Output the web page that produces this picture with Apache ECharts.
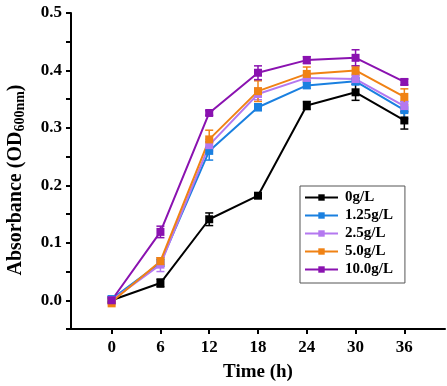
<!DOCTYPE html>
<html>
<head>
<meta charset="utf-8">
<script src="https://cdn.jsdelivr.net/npm/echarts@6/dist/echarts.min.js"></script>
<style>
  html, body { margin: 0; padding: 0; background: #fff; }
  #chart { width: 447px; height: 386px; }
</style>
</head>
<body>
<div id="chart"></div>
<script>
// time points (h)
const times = [0, 6, 12, 18, 24, 30, 36]
const xTicks = [0, 6, 12, 18, 24, 30, 36]
const yTicks = [0, 0.1, 0.2, 0.3, 0.4, 0.5]

const names = ['0g/L', '1.25g/L', '2.5g/L', '5.0g/L', '10.0g/L']
const colors = ['#000000', '#1a80e0', '#b478f0', '#f08214', '#8a12b0']

// OD600 means
const od0 = [0.000, 0.030, 0.141, 0.182, 0.339, 0.362, 0.313]
const od125 = [0.002, 0.065, 0.260, 0.336, 0.374, 0.381, 0.331]
const od25 = [0.000, 0.062, 0.270, 0.359, 0.387, 0.385, 0.338]
const od50 = [-0.003, 0.068, 0.280, 0.364, 0.394, 0.400, 0.354]
const od100 = [0.000, 0.119, 0.326, 0.396, 0.418, 0.422, 0.380]

// error bars (+/-)
const err0 = [0.003, 0.007, 0.011, 0.003, 0.007, 0.014, 0.015]
const err125 = [0.005, 0.006, 0.016, 0.006, 0.005, 0.006, 0.015]
const err25 = [0.005, 0.012, 0.010, 0.010, 0.005, 0.008, 0.008]
const err50 = [0.008, 0.006, 0.016, 0.018, 0.012, 0.008, 0.014]
const err100 = [0.004, 0.010, 0.004, 0.012, 0.006, 0.014, 0.005]

const means = [od0, od125, od25, od50, od100]
const errs = [err0, err125, err25, err50, err100]

const font = 'Liberation Serif'

const series = []
names.forEach((name, i) => {
  series.push({
    name: name + ' err',
    type: 'custom',
    data: times.map((t, j) => [t, means[i][j] - errs[i][j], means[i][j] + errs[i][j]]),
    renderItem: function(params, api) {
      const lo = api.coord([api.value(0), api.value(1)])
      const hi = api.coord([api.value(0), api.value(2)])
      const w = 4
      const style = { stroke: colors[i], lineWidth: 1.5 }
      return {
        type: 'group',
        children: [
          { type: 'line', shape: { x1: lo[0], y1: lo[1], x2: hi[0], y2: hi[1] }, style },
          { type: 'line', shape: { x1: lo[0] - w, y1: lo[1], x2: lo[0] + w, y2: lo[1] }, style },
          { type: 'line', shape: { x1: hi[0] - w, y1: hi[1], x2: hi[0] + w, y2: hi[1] }, style }
        ]
      }
    },
    silent: true
  })
  series.push({
    name: name,
    type: 'line',
    data: times.map((t, j) => [t, means[i][j]]),
    symbol: 'rect',
    symbolSize: 8,
    color: colors[i],
    lineStyle: { width: 2, color: colors[i] },
    itemStyle: { color: colors[i] }
  })
})

const chart = echarts.init(document.getElementById('chart'))
chart.setOption({
  animation: false,
  textStyle: { fontFamily: font },
  grid: {
    left: 71,
    right: 2,
    top: 13,
    bottom: 57,
    outerBoundsMode: 'none'
  },
  legend: {
    data: names,
    orient: 'vertical',
    left: 300,
    top: 186,
    padding: [4, 12, 6, 4],
    itemGap: 3,
    itemWidth: 33,
    itemHeight: 8,
    borderColor: '#555',
    borderWidth: 1,
    textStyle: {
      fontFamily: font,
      fontWeight: 'bold',
      fontSize: 15,
      lineHeight: 15,
      color: '#000',
      padding: [0, 0, 0, 2]
    }
  },
  xAxis: {
    type: 'value',
    min: -5,
    max: 41,
    name: 'Time (h)',
    nameLocation: 'middle',
    nameGap: 34,
    nameTextStyle: { fontFamily: font, fontWeight: 'bold', fontSize: 19, color: '#000' },
    axisLine: { show: true, onZero: false, lineStyle: { color: '#000', width: 2 } },
    axisTick: { show: true, customValues: xTicks, length: 5, lineStyle: { color: '#000', width: 2 } },
    axisLabel: {
      customValues: xTicks,
      margin: 10,
      fontFamily: font,
      fontWeight: 'bold',
      fontSize: 17,
      color: '#000'
    },
    splitLine: { show: false }
  },
  yAxis: {
    type: 'value',
    min: -0.05,
    max: 0.5,
    interval: 0.05,
    name: '{a|Absorbance (OD}{b|600nm}{a|)}',
    nameLocation: 'middle',
    nameGap: 44,
    nameRotate: 90,
    nameTextStyle: {
      padding: [0, 18, 0, 0],
      rich: {
        a: { fontFamily: font, fontWeight: 'bold', fontSize: 20, lineHeight: 23, color: '#000' },
        b: { fontFamily: font, fontWeight: 'bold', fontSize: 14, lineHeight: 14, color: '#000', verticalAlign: 'bottom' }
      }
    },
    axisLine: { show: true, onZero: false, lineStyle: { color: '#000', width: 2 } },
    axisTick: { show: true, length: 5, lineStyle: { color: '#000', width: 2 } },
    axisLabel: {
      customValues: yTicks,
      margin: 9,
      fontFamily: font,
      fontWeight: 'bold',
      fontSize: 17,
      color: '#000',
      formatter: v => v.toFixed(1)
    },
    splitLine: { show: false }
  },
  series: series
})
</script>
</body>
</html>
